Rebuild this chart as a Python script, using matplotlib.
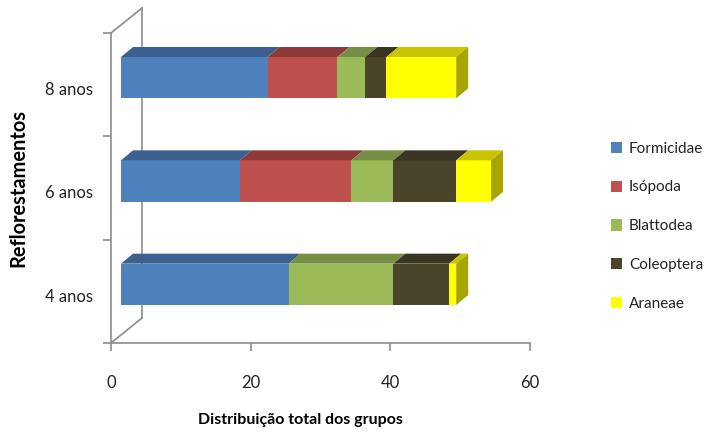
import matplotlib.pyplot as plt
from matplotlib.patches import Polygon, Patch
from matplotlib.transforms import ScaledTranslation

plt.rcParams['font.family'] = ['Lato', 'DejaVu Sans']

idades = ["4 anos", "6 anos", "8 anos"]
grupos = ["Formicidae", "Isópoda", "Blattodea", "Coleoptera", "Araneae"]
formicidae = [24, 17, 21]
isopoda = [0, 16, 10]
blattodea = [15, 6, 4]
coleoptera = [8, 9, 3]
araneae = [1, 5, 10]
x_ticks = [0, 20, 40, 60]

series = [formicidae, isopoda, blattodea, coleoptera, araneae]
cores = ["#4F81BD", "#C0504D", "#9BBB59", "#4A452A", "#FFFF00"]
topos = ["#3C6190", "#8E3A38", "#778F45", "#3A3522", "#C8C400"]
lados = ["#2F4D72", "#71302E", "#5E7236", "#2C291A", "#A8A400"]

DPI = 100
fig = plt.figure(figsize=(7.13, 4.32), dpi=DPI)
# axes box in pixels: x 111..530, y 33..343 (from top)
ax = fig.add_axes([111 / 713, 89 / 432, 419 / 713, 310 / 432])
ax.set_xlim(0, 60)
ax.set_ylim(0, 3)

# pixel -> data conversion for the 3d depth
px_x = 60 / 419
px_y = 3 / 310
prof_x, prof_y = 12 * px_x, 10 * px_y
frente = ScaledTranslation(10 / DPI, 7 / DPI, fig.dpi_scale_trans)
altura = 0.4

pos = [i + 0.5 for i in range(len(idades))]
esquerda = [0] * len(idades)
for vals, cor, topo in zip(series, cores, topos):
    ax.barh(pos, vals, left=esquerda, height=altura, color=cor,
            linewidth=0, transform=ax.transData + frente, zorder=3)
    for y, l, v in zip(pos, esquerda, vals):
        if v <= 0:
            continue
        yt = y + altura / 2
        ax.add_patch(Polygon([(l, yt), (l + v, yt),
                              (l + v + prof_x, yt + prof_y),
                              (l + prof_x, yt + prof_y)],
                             closed=True, facecolor=topo, linewidth=0,
                             transform=ax.transData + frente, zorder=3))
    esquerda = [l + v for l, v in zip(esquerda, vals)]

# right side face of each stacked bar
for y, tot in zip(pos, esquerda):
    yb, yt = y - altura / 2, y + altura / 2
    ax.add_patch(Polygon([(tot, yb), (tot, yt),
                          (tot + prof_x, yt + prof_y),
                          (tot + prof_x, yb + prof_y)],
                         closed=True, facecolor=lados[-1], linewidth=0,
                         transform=ax.transData + frente, zorder=3))

# back wall lines
cinza = "#8C8C8C"
dxa, dya = 31 / 419, 25 / 310
kw = dict(color=cinza, lw=1.2, transform=ax.transAxes, clip_on=False, zorder=1)
ax.plot([0, dxa], [0, dya], **kw)
ax.plot([0, dxa], [1, 1 + dya], **kw)
ax.plot([dxa, dxa], [dya, 1 + dya], **kw)

for s in ["top", "right"]:
    ax.spines[s].set_visible(False)
for s in ["left", "bottom"]:
    ax.spines[s].set_color(cinza)
    ax.spines[s].set_linewidth(1.2)

ax.set_xticks(x_ticks)
ax.set_xticklabels([str(t) for t in x_ticks], fontsize=12, color="#222222")
ax.tick_params(axis="x", length=6, width=1.2, color=cinza, pad=17)

ax.set_yticks([0, 1, 2, 3], minor=True)
ax.set_yticks(pos)
ax.set_yticklabels(idades, fontsize=12, color="#222222")
ax.tick_params(axis="y", which="major", length=0, pad=13)
ax.tick_params(axis="y", which="minor", length=6, width=1.2, color=cinza)
desce = ScaledTranslation(0, -4 / DPI, fig.dpi_scale_trans)
for lab in ax.get_yticklabels():
    lab.set_transform(lab.get_transform() + desce)

ax.set_xlabel("Distribuição total dos grupos", fontsize=11.5, fontweight="bold")
ax.xaxis.set_label_coords(189 / 419, -70 / 310)
ax.set_ylabel("Reflorestamentos", fontsize=14.4, fontweight="bold")
ax.yaxis.set_label_coords(-83 / 419, 155 / 310)

handles = [Patch(facecolor=c, edgecolor="none") for c in cores]
fig.legend(handles, grupos, loc="upper left",
           bbox_to_anchor=(597 / 713, 1 - 128 / 432),
           frameon=False, fontsize=11, handlelength=0.75, handleheight=0.75,
           handletextpad=0.45, labelspacing=1.62, labelcolor="#222222")

fig.savefig("out.png", dpi=DPI)
